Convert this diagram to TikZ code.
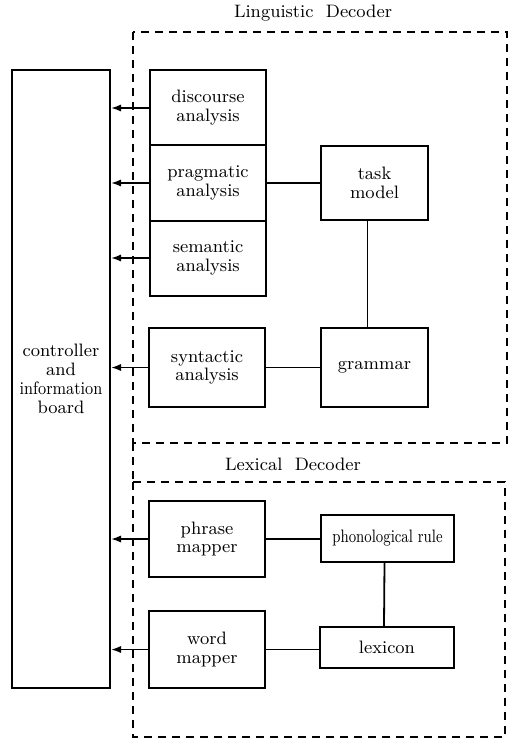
\documentclass[tikz,border=0pt]{standalone}
\usepackage{graphicx}
\usetikzlibrary{positioning,arrows.meta}
\begin{document}
\begin{tikzpicture}[x=0.5pt,y=-0.5pt,
		every node/.style={font=\fontsize{9}{9.4}\selectfont, align=center, inner sep=1pt},
		module/.style={draw, line width=1pt, outer sep=0pt, minimum width=58pt, minimum height=37.5pt},
		store/.style={draw, line width=1pt, minimum width=53.5pt, minimum height=37pt},
		link/.style={line width=0.9pt},
		toboard/.style={line width=0.9pt, -{Latex[length=5pt,width=3.6pt]}},
		frame/.style={line width=1pt, dash pattern=on 4pt off 3pt}]
	\useasboundingbox (0,0) rectangle (514,743);
	% decoder frames
	\coordinate (lingNW) at (133,32);
	\coordinate (lingSE) at (507,443);
	\coordinate (lexNW) at (133,482);
	\coordinate (lexSE) at (505,737);
	\draw[frame] (lingNW) rectangle (lingSE);
	\draw[frame] (lexNW) rectangle (lexSE);
	\draw[frame] (lingNW |- lingSE) -- (lexNW);
	\node (lingtitle) at (313,13) {Linguistic\ \ Decoder};
	\node (lextitle) at (293,464) {Lexical\ \ Decoder};
	% controller
	\node[draw, line width=1pt, minimum width=49pt, minimum height=309pt] (board) at (61,379)
		{controller\\and\\\scalebox{0.88}[1]{information}\\board};
	% linguistic modules
	\node[module] (discourse) at (208,108) {discourse\\analysis};
	\node[module, below=0pt of discourse] (pragmatic) {pragmatic\\analysis};
	\node[module, below=0pt of pragmatic] (semantic) {semantic\\analysis};
	\node[module, minimum height=39.5pt] (syntactic) at (207,367.5) {syntactic\\analysis};
	\node[store] (task) at (374.5,183) {task\\model};
	\node[store, minimum height=39.5pt] (grammar) at (374.5,367.5) {grammar};
	% lexical modules
	\node[module, minimum height=38pt] (phrase) at (207,539) {phrase\\mapper};
	\node[module, minimum height=38.5pt] (word) at (207,649.5) {word\\mapper};
	\node[draw, line width=1pt, minimum width=66.5pt, minimum height=23.5pt] (phono) at (387.5,538.5)
		{\scalebox{0.8}[1]{phonological rule}};
	\node[draw, line width=1pt, minimum width=67pt, minimum height=20.5pt] (lexicon) at (387,647.5) {lexicon};
	% links
	\draw[link] (pragmatic) -- (task);
	\draw[link] ([xshift=-3.5pt]task.south) -- ([xshift=-3.5pt]grammar.north);
	\draw[link] (syntactic) -- (grammar);
	\draw[link] (phrase) -- (phrase -| phono.west);
	\draw[link] ([xshift=-1.5pt]phono.south) -- ([xshift=-1.5pt]lexicon.north);
	\draw[link] (word) -- (word -| lexicon.west);
	% results to the board
	\foreach \src in {discourse,pragmatic,semantic,syntactic,phrase,word}
		\draw[toboard] (\src.west) -- (\src.west -| board.east);
\end{tikzpicture}
\end{document}
